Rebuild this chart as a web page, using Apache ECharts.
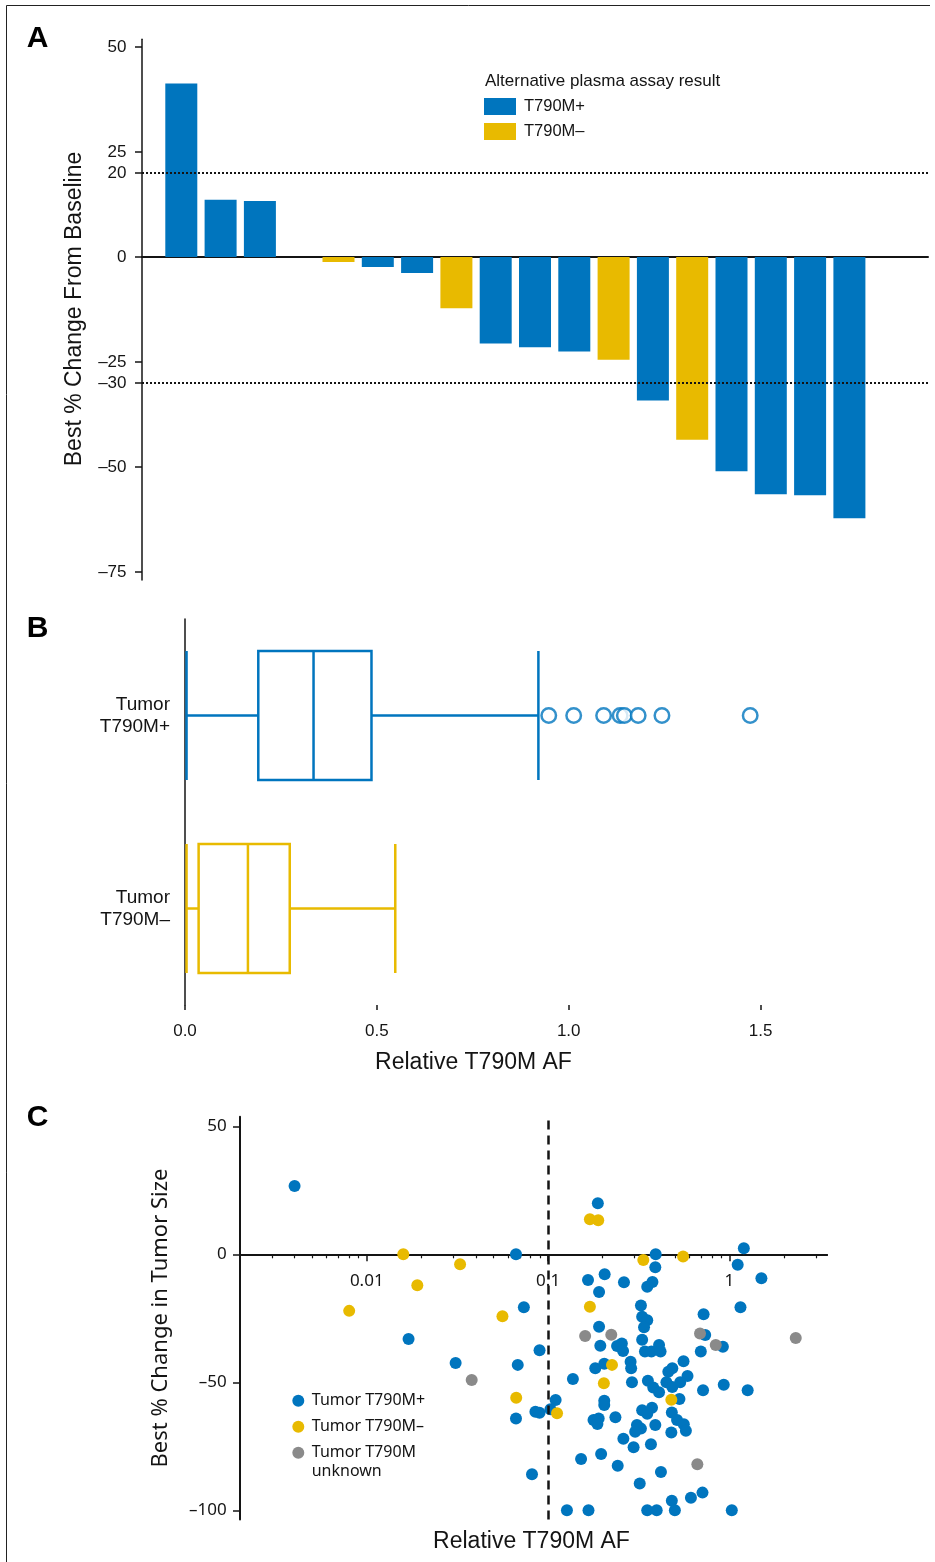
<!DOCTYPE html>
<html><head><meta charset="utf-8">
<script src="https://cdn.jsdelivr.net/npm/echarts@6/dist/echarts.min.js"></script>
<style>html,body{margin:0;padding:0;background:#fff}#c{width:935px;height:1562px}</style>
</head><body><div id="c"></div>
<script>
// ---------- Panel A data ----------
const patientSlotsA = [1,2,3,4,5,6,7,8,9,10,11,12,13,14,15,16,17,18];
const bestChangeA = [41.3,13.6,13.3,0,-1.2,-2.4,-3.8,-12.2,-20.6,-21.5,-22.5,-24.5,-34.2,-43.5,-51.0,-56.5,-56.7,-62.2];
const plasmaStatusA = ['+','+','+','+','-','+','+','-','+','+','+','-','+','-','+','+','+','+'];
const yTicksA = [50,25,20,0,-25,-30,-50,-75];
const thresholdsA = [20,-30];
const legendNamesA = ['T790M+','T790M\u2013'];

// ---------- Panel B data ----------
const groupsB = ['Tumor\nT790M+','Tumor\nT790M\u2013'];
const boxStatsB = [[0.004,0.191,0.335,0.486,0.921],[0.004,0.0355,0.164,0.273,0.548]];
const outliersB = [0.948,1.013,1.091,1.134,1.145,1.181,1.243,1.473];
const xTicksB = [0,0.5,1,1.5];

// ---------- Panel C data ----------
const posAF = [0.0040,0.0170,0.0309,0.0665,0.0735,0.0897,0.0680,0.188,0.392,1.20,1.11,0.390,0.205,0.166,0.262,0.376,0.352,1.50,0.191,0.325,1.15,0.72,0.330,0.352,0.338,0.191,0.330,0.735,0.92,0.194,0.240,0.255,0.259,0.342,0.371,0.409,0.417,0.695,0.182,0.204,0.285,0.287,0.558,0.460,0.484,0.587,0.137,0.290,0.355,0.380,0.409,0.449,0.484,0.535,0.715,0.93,1.26,0.110,0.204,0.204,0.103,0.0851,0.0897,0.0665,0.530,0.330,0.374,0.352,0.481,0.514,0.178,0.190,0.187,0.235,0.309,0.325,0.302,0.390,0.560,0.575,0.478,0.260,0.369,0.296,0.152,0.196,0.242,0.419,0.0815,0.320,0.710,0.613,0.481,0.127,0.167,0.352,0.397,0.50,1.03];
const posChange = [26.7,-33.1,-42.5,0,-20.7,-37.5,-43.2,19.9,0,2.4,-4.1,-5.1,-7.8,-10.0,-10.9,-10.8,-12.7,-9.4,-14.7,-20.0,-20.7,-23.4,-24.4,-25.8,-28.5,-28.3,-33.4,-31.5,-36.1,-35.7,-35.8,-34.8,-37.8,-38.0,-38.0,-35.4,-38.0,-38.0,-44.5,-42.8,-42.0,-44.5,-41.8,-45.9,-44.5,-47.5,-48.7,-50.0,-49.4,-52.0,-53.9,-50.0,-51.8,-50.0,-53.1,-51.0,-53.1,-56.9,-57.2,-58.9,-60.5,-61.5,-61.9,-64.1,-56.5,-60.9,-59.9,-62.3,-61.8,-64.7,-64.7,-64.1,-66.3,-63.7,-66.7,-68.1,-69.3,-66.7,-66.4,-68.9,-69.6,-72.1,-74.2,-75.4,-80.0,-78.0,-82.6,-85.0,-85.9,-89.5,-93.1,-95.1,-96.3,-100,-100,-100,-100,-100,-100];
const negAF = [0.0159,0.0327,0.0190,0.0080,0.0560,0.170,0.189,0.335,0.555,0.170,0.225,0.203,0.0667,0.112,0.478];
const negChange = [0,-3.9,-12.1,-22.1,-24.2,13.7,13.3,-2.2,-0.9,-20.5,-43.2,-50.4,-56.0,-62.1,-56.8];
const unkAF = [0.0379,0.160,0.223,0.688,0.840,2.32,0.665];
const unkChange = [-49.1,-31.9,-31.4,-30.9,-35.4,-32.7,-82.0];
const yTicksC = [50,0,-50,-100];
const xLabelTicksC = [0.01,0.1,1];
const xMinorTicksC = [0.003,0.004,0.005,0.006,0.007,0.008,0.009,0.02,0.03,0.04,0.05,0.06,0.07,0.08,0.09,0.2,0.3,0.4,0.5,0.6,0.7,0.8,0.9,2,3];
const cutoffC = 0.1;
const legendNamesC = ['Tumor T790M+','Tumor T790M\u2013','Tumor T790M unknown'];

// ---------- styling ----------
const BLUE = '#0075BE', YELLOW = '#E8BA00', GRAY = '#8A8A8A', INK = '#141414';
const F = '"Liberation Sans", Arial, Helvetica, sans-serif';
const FN = '"Noto Sans", "Open Sans", sans-serif';
const signed = v => (v < 0 ? '\u2013' + Math.abs(v) : String(v));
const C_MIN = 0.002, C_MAX = 3.45, CY_MIN = -103.6, CY_MAX = 53.75;
const GC = {left: 240, top: 1116.7, width: 587, height: 402.8};
// label strip for panel C x labels: a grid whose bottom edge sits at the y = 0 line of panel C
const GC_LABEL = {left: GC.left, top: GC.top, width: GC.width, height: GC.height * CY_MAX / (CY_MAX - CY_MIN)};

const barData = s => patientSlotsA.map((x, i) => plasmaStatusA[i] === s ? [x, bestChangeA[i]] : [x, null]);
const zip = (a, b) => a.map((v, i) => [v, b[i]]);

const chart = echarts.init(document.getElementById('c'), null, {renderer: 'canvas'});
chart.setOption({
  animation: false,
  backgroundColor: '#fff',
  grid: [
    {left: 142, top: 39.3, width: 786, height: 540.7, outerBoundsMode: 'none'},
    {left: 185, top: 619, width: 584, height: 386, outerBoundsMode: 'none'},
    Object.assign({outerBoundsMode: 'none'}, GC),
    Object.assign({outerBoundsMode: 'none'}, GC_LABEL)
  ],
  xAxis: [
    {gridIndex: 0, type: 'value', min: 0, max: 20,
     axisLine: {onZero: true, onZeroAxisIndex: 0, lineStyle: {color: INK, width: 2}},
     axisTick: {show: false}, axisLabel: {show: false}, splitLine: {show: false}},
    {gridIndex: 1, type: 'value', min: 0, max: 1.522, position: 'bottom',
     axisLine: {onZero: false, lineStyle: {color: INK, width: 2.5}},
     axisTick: {show: true, length: 5, customValues: xTicksB, lineStyle: {color: INK, width: 1.5}},
     axisLabel: {customValues: xTicksB, formatter: v => Number(v).toFixed(1), margin: 18, fontSize: 17, fontFamily: F, color: INK},
     splitLine: {show: false}},
    {gridIndex: 2, type: 'log', logBase: 10, min: C_MIN, max: C_MAX, position: 'bottom',
     axisLine: {show: false, onZero: true, onZeroAxisIndex: 2},
     axisTick: {show: false}, minorTick: {show: false}, axisLabel: {show: false},
     splitLine: {show: false}},
    {gridIndex: 2, type: 'value', min: Math.log10(C_MIN), max: Math.log10(C_MAX), position: 'bottom',
     axisLine: {onZero: true, onZeroAxisIndex: 2, lineStyle: {color: INK, width: 2}},
     axisTick: {show: true, length: 7, customValues: xLabelTicksC.map(Math.log10), lineStyle: {color: INK, width: 1.5}},
     axisLabel: {show: false}, splitLine: {show: false}},
    {gridIndex: 2, type: 'value', min: Math.log10(C_MIN), max: Math.log10(C_MAX), position: 'bottom',
     axisLine: {onZero: true, onZeroAxisIndex: 2, lineStyle: {color: INK, width: 2}},
     axisTick: {show: true, length: 4, customValues: xMinorTicksC.map(Math.log10), lineStyle: {color: INK, width: 1.2}},
     axisLabel: {show: false}, splitLine: {show: false}},
    {gridIndex: 3, type: 'value', min: Math.log10(C_MIN), max: Math.log10(C_MAX), position: 'bottom',
     axisLine: {show: false, onZero: false}, axisTick: {show: false},
     axisLabel: {customValues: xLabelTicksC.map(Math.log10), formatter: v => String(+Math.pow(10, v).toPrecision(3)),
       margin: 18, fontSize: 17, fontFamily: FN, color: INK},
     splitLine: {show: false}}
  ],
  yAxis: [
    {gridIndex: 0, type: 'value', min: -76.9, max: 51.8,
     axisLine: {show: true, onZero: false, lineStyle: {color: INK, width: 1.5}},
     axisTick: {show: true, length: 7, customValues: yTicksA, lineStyle: {color: INK, width: 1.5}},
     axisLabel: {customValues: yTicksA, formatter: signed, margin: 15.5, fontSize: 17, fontFamily: F, color: INK},
     splitLine: {show: false}},
    {gridIndex: 1, type: 'category', data: groupsB, inverse: true,
     axisLine: {show: true, onZero: false, lineStyle: {color: INK, width: 1.5}},
     axisTick: {show: false},
     axisLabel: {margin: 15, fontSize: 19, lineHeight: 22, fontFamily: F, color: INK, align: 'right'},
     splitLine: {show: false}},
    {gridIndex: 2, type: 'value', min: CY_MIN, max: CY_MAX,
     axisLine: {show: true, onZero: false, lineStyle: {color: INK, width: 2}},
     axisTick: {show: true, length: 7, customValues: yTicksC, lineStyle: {color: INK, width: 1.5}},
     axisLabel: {customValues: yTicksC, formatter: signed, margin: 13.3, fontSize: 17, fontFamily: FN, color: INK},
     splitLine: {show: false}},
    {gridIndex: 3, type: 'value', min: 0, max: CY_MAX, show: false}
  ],
  legend: [
    {left: 484, top: 98, orient: 'vertical', padding: 0, itemGap: 8, itemWidth: 32, itemHeight: 17,
     icon: 'rect', data: legendNamesA, selectedMode: false,
     textStyle: {fontSize: 16.5, fontFamily: F, color: INK, lineHeight: 17, padding: [0, 0, 0, 3]}},
    {left: 292.3, top: 1391.7, orient: 'vertical', padding: 0, itemGap: 8, itemWidth: 12, itemHeight: 12,
     icon: 'circle', data: legendNamesC, selectedMode: false,
     formatter: n => (n === legendNamesC[2] ? 'Tumor T790M' : n),
     textStyle: {fontSize: 16, fontFamily: FN, color: INK, lineHeight: 18, padding: [0, 0, 0, 2.5]}}
  ],
  series: [
    {type: 'bar', name: legendNamesA[0], xAxisIndex: 0, yAxisIndex: 0, barWidth: 32, barGap: '-100%',
     data: barData('+'), itemStyle: {color: BLUE},
     markLine: {silent: true, symbol: 'none', label: {show: false},
       lineStyle: {color: INK, type: [2, 2], width: 2},
       data: thresholdsA.map(v => ({yAxis: v}))}},
    {type: 'bar', name: legendNamesA[1], xAxisIndex: 0, yAxisIndex: 0, barWidth: 32, barGap: '-100%',
     data: barData('-'), itemStyle: {color: YELLOW}},
    {type: 'boxplot', name: 'boxB', xAxisIndex: 1, yAxisIndex: 1, boxWidth: [129, 129],
     data: boxStatsB.map((s, i) => ({value: s, itemStyle: {borderColor: i === 0 ? BLUE : YELLOW, color: 'rgba(255,255,255,0)', borderWidth: 2.5}})),
     itemStyle: {borderWidth: 2.5, color: 'rgba(255,255,255,0)'}},
    {type: 'scatter', name: 'outB', xAxisIndex: 1, yAxisIndex: 1, symbol: 'circle', symbolSize: 14.5,
     data: outliersB.map(v => [v, groupsB[0]]),
     itemStyle: {color: '#fff', borderColor: BLUE, borderWidth: 2.5}},
    {type: 'scatter', name: legendNamesC[0], xAxisIndex: 2, yAxisIndex: 2, symbol: 'circle', symbolSize: 12,
     data: zip(posAF, posChange), itemStyle: {color: BLUE, opacity: 1},
     markLine: {silent: true, symbol: 'none', label: {show: false},
       lineStyle: {color: INK, type: [9, 6], width: 2.5},
       data: [{xAxis: cutoffC}]}},
    {type: 'scatter', name: legendNamesC[1], xAxisIndex: 2, yAxisIndex: 2, symbol: 'circle', symbolSize: 12,
     data: zip(negAF, negChange), itemStyle: {color: YELLOW, opacity: 1}},
    {type: 'scatter', name: legendNamesC[2], xAxisIndex: 2, yAxisIndex: 2, symbol: 'circle', symbolSize: 12,
     data: zip(unkAF, unkChange), itemStyle: {color: GRAY, opacity: 1}}
  ],
  graphic: [
    {type: 'line', shape: {x1: 6.5, y1: 5.5, x2: 930, y2: 5.5}, style: {stroke: '#222', lineWidth: 1}},
    {type: 'line', shape: {x1: 6.5, y1: 5.5, x2: 6.5, y2: 1562}, style: {stroke: '#222', lineWidth: 1}},
    {type: 'text', x: 37.5, y: 39, style: {text: 'A', font: 'bold 30px ' + F, fill: '#000', align: 'center', verticalAlign: 'middle'}},
    {type: 'text', x: 37.5, y: 628.5, style: {text: 'B', font: 'bold 30px ' + F, fill: '#000', align: 'center', verticalAlign: 'middle'}},
    {type: 'text', x: 37.5, y: 1117.5, style: {text: 'C', font: 'bold 30px ' + F, fill: '#000', align: 'center', verticalAlign: 'middle'}},
    {type: 'text', x: 74.5, y: 309, rotation: Math.PI / 2, style: {text: 'Best % Change From Baseline', font: '23px ' + F, fill: INK, align: 'center', verticalAlign: 'middle'}},
    {type: 'text', x: 485, y: 81, style: {text: 'Alternative plasma assay result', font: '17px ' + F, fill: INK, align: 'left', verticalAlign: 'middle'}},
    {type: 'text', x: 473.5, y: 1063, style: {text: 'Relative T790M AF', font: '23px ' + F, fill: INK, align: 'center', verticalAlign: 'middle'}},
    {type: 'text', x: 161, y: 1318, rotation: Math.PI / 2, style: {text: 'Best % Change in Tumor Size', font: '22px ' + FN, fill: INK, align: 'center', verticalAlign: 'middle'}},
    {type: 'text', x: 531.5, y: 1542, style: {text: 'Relative T790M AF', font: '23px ' + F, fill: INK, align: 'center', verticalAlign: 'middle'}},
    {type: 'text', x: 311.7, y: 1471, style: {text: 'unknown', font: '16px ' + FN, fill: INK, align: 'left', verticalAlign: 'middle'}}
  ]
});
</script>
</body></html>
